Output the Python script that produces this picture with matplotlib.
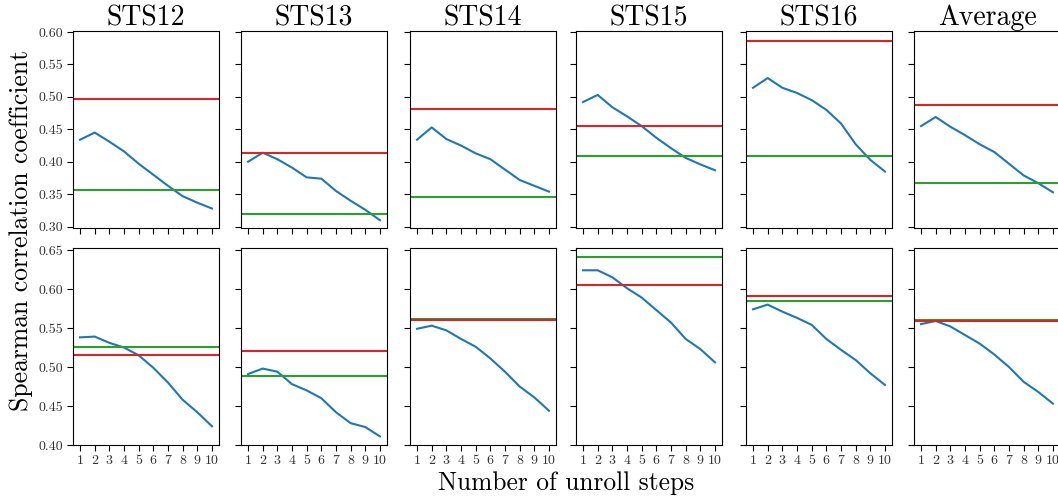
import matplotlib
matplotlib.use("Agg")
import matplotlib.pyplot as plt

plt.rcParams['font.family'] = ['cmr10', 'DejaVu Serif']
plt.rcParams['mathtext.fontset'] = 'cm'
plt.rcParams['axes.formatter.use_mathtext'] = True

steps = [1, 2, 3, 4, 5, 6, 7, 8, 9, 10]
titles = ["STS12", "STS13", "STS14", "STS15", "STS16", "Average"]

# Top row
top_curves = [
    [0.434, 0.445, 0.431, 0.416, 0.397, 0.380, 0.363, 0.347, 0.337, 0.328],
    [0.400, 0.414, 0.404, 0.391, 0.376, 0.374, 0.355, 0.340, 0.326, 0.310],
    [0.434, 0.453, 0.435, 0.425, 0.413, 0.404, 0.388, 0.372, 0.363, 0.354],
    [0.492, 0.503, 0.484, 0.470, 0.455, 0.437, 0.421, 0.406, 0.396, 0.387],
    [0.514, 0.529, 0.514, 0.506, 0.495, 0.480, 0.459, 0.427, 0.403, 0.385],
    [0.455, 0.469, 0.454, 0.441, 0.427, 0.415, 0.397, 0.379, 0.367, 0.353],
]
top_red = [0.4965, 0.414, 0.482, 0.4545, 0.586, 0.487]
top_green = [0.357, 0.320, 0.3455, 0.409, 0.409, 0.368]

# Bottom row
bot_curves = [
    [0.538, 0.539, 0.531, 0.525, 0.515, 0.499, 0.480, 0.458, 0.442, 0.424],
    [0.491, 0.498, 0.494, 0.478, 0.470, 0.460, 0.442, 0.428, 0.423, 0.411],
    [0.549, 0.553, 0.547, 0.536, 0.526, 0.511, 0.494, 0.475, 0.461, 0.444],
    [0.624, 0.624, 0.615, 0.601, 0.589, 0.573, 0.557, 0.536, 0.523, 0.506],
    [0.574, 0.580, 0.571, 0.563, 0.554, 0.536, 0.522, 0.509, 0.492, 0.477],
    [0.555, 0.559, 0.552, 0.541, 0.530, 0.516, 0.500, 0.481, 0.468, 0.453],
]
bot_red = [0.516, 0.520, 0.5607, 0.6047, 0.591, 0.5586]
bot_green = [0.5256, 0.4885, 0.5619, 0.6406, 0.5842, 0.5603]

top_yticks = [0.30, 0.35, 0.40, 0.45, 0.50, 0.55, 0.60]
bot_yticks = [0.40, 0.45, 0.50, 0.55, 0.60, 0.65]

W, H = 1058, 497
fig = plt.figure(figsize=(W / 100, H / 100), dpi=100)

lefts = [73, 241, 410, 576, 746, 914]
pw = 146

def make_ax(left, top, bottom):
    return fig.add_axes([left / W, (H - bottom) / H, pw / W, (bottom - top) / H])

for row in range(2):
    for i in range(6):
        if row == 0:
            ax = make_ax(lefts[i], 31.3, 228)
            curve, red, green = top_curves[i], top_red[i], top_green[i]
            ax.set_ylim(0.298, 0.601)
            ax.set_yticks(top_yticks)
            ax.set_title(titles[i], fontsize=20, pad=4)
        else:
            ax = make_ax(lefts[i], 248.3, 445)
            curve, red, green = bot_curves[i], bot_red[i], bot_green[i]
            ax.set_ylim(0.40, 0.6522)
            ax.set_yticks(bot_yticks)
        ax.plot(steps, curve, color='#1f77b4', lw=1.5)
        ax.axhline(green, color='#2ca02c', lw=1.5)
        ax.axhline(red, color='#d62728', lw=1.5)
        ax.set_xlim(0.52, 10.48)
        ax.set_xticks(steps)
        if row == 0:
            ax.set_xticklabels([])
        else:
            ax.set_xticklabels([str(s) for s in steps], fontsize=10)
        if i == 0:
            ax.set_yticklabels(["%.2f" % t for t in ax.get_yticks()], fontsize=10)
        else:
            ax.set_yticklabels([])
        ax.tick_params(direction='out', length=4, width=0.8, colors='black',
                       labelcolor='#333333', pad=3)

fig.text(21 / W, 1 - 230 / H, "Spearman correlation coefficient", rotation=90,
         ha='center', va='center', fontsize=18.5)
fig.text(566 / W, 1 - 483 / H, "Number of unroll steps", ha='center', va='center',
         fontsize=18.3)

fig.savefig("out.png", dpi=100)
